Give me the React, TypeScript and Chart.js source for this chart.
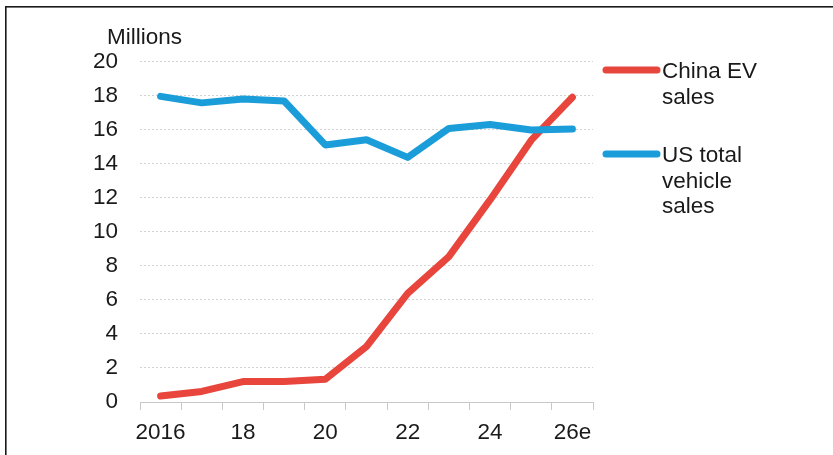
import React, { useEffect, useRef } from "react";
import { Chart, registerables } from "chart.js";

Chart.register(...registerables);

const years = ["2016", "2017", "2018", "2019", "2020", "2021", "2022", "2023", "2024", "2025", "2026e"];
const tickLabels = ["2016", "", "18", "", "20", "", "22", "", "24", "", "26e"];
const chinaEV = [0.35, 0.62, 1.2, 1.2, 1.33, 3.26, 6.38, 8.54, 11.87, 15.38, 17.9];
const usTotal = [17.95, 17.57, 17.8, 17.68, 15.1, 15.4, 14.37, 16.07, 16.3, 15.98, 16.03];
const unitLabel = "Millions";
const legendItems = [
  { lines: ["China EV", "sales"], color: "#E8453C" },
  { lines: ["US total", "vehicle", "sales"], color: "#1B9DD9" },
];

const FONT = "'Liberation Sans', Arial, sans-serif";
const FS = 22.5;
const RED = "#E8453C";
const BLUE = "#1B9DD9";

const decorPlugin = {
  id: "decor",
  afterDraw(chart: any) {
    const ctx = chart.ctx;
    ctx.save();
    // frame
    ctx.fillStyle = "#1a1a1a";
    ctx.fillRect(5, 6, 828, 1.6);
    ctx.fillRect(5, 6, 1.6, 449);
    // unit label
    ctx.fillStyle = "#1a1a1a";
    ctx.font = `${FS}px ${FONT}`;
    ctx.textAlign = "left";
    ctx.textBaseline = "alphabetic";
    ctx.fillText(unitLabel, 107, 44);
    // legend
    const starts = [70, 154];
    legendItems.forEach((item, i) => {
      const y = starts[i];
      ctx.strokeStyle = item.color;
      ctx.lineWidth = 7;
      ctx.lineCap = "round";
      ctx.beginPath();
      ctx.moveTo(606, y);
      ctx.lineTo(657, y);
      ctx.stroke();
      ctx.fillStyle = "#1a1a1a";
      item.lines.forEach((t, j) => {
        ctx.fillText(t, 662, y + 8 + j * 25.5);
      });
    });
    ctx.restore();
  },
};

export default function App() {
  const ref = useRef<HTMLCanvasElement | null>(null);
  useEffect(() => {
    document.body.style.margin = "0";
    const chart = new Chart(ref.current as HTMLCanvasElement, {
      type: "line",
      data: {
        labels: years,
        datasets: [
          {
            label: "US total vehicle sales",
            data: usTotal,
            borderColor: BLUE,
            backgroundColor: BLUE,
            borderWidth: 7,
            pointRadius: 0,
            tension: 0,
            borderCapStyle: "round",
            borderJoinStyle: "round",
          },
          {
            label: "China EV sales",
            data: chinaEV,
            borderColor: RED,
            backgroundColor: RED,
            borderWidth: 7,
            pointRadius: 0,
            tension: 0,
            borderCapStyle: "round",
            borderJoinStyle: "round",
          },
        ],
      },
      options: {
        animation: false,
        responsive: true,
        maintainAspectRatio: false,
        layout: { padding: { left: 0, top: 61.5, right: 240, bottom: 0 } },
        plugins: { legend: { display: false }, tooltip: { enabled: false } },
        scales: {
          x: {
            type: "category",
            offset: true,
            afterFit: (s: any) => {
              s.height = 53;
            },
            grid: {
              offset: true,
              drawOnChartArea: false,
              drawTicks: true,
              tickLength: 8,
              color: "#c8c8c8",
              tickColor: "#c8c8c8",
            },
            border: { display: true, color: "#c8c8c8", width: 1 },
            ticks: {
              autoSkip: false,
              maxRotation: 0,
              padding: 9,
              color: "#1a1a1a",
              font: { family: FONT, size: FS },
              callback: (_v: any, i: number) => tickLabels[i],
            },
          },
          y: {
            min: 0,
            max: 20,
            afterFit: (s: any) => {
              s.width = 140;
            },
            grid: { drawTicks: false, color: "#d2d2d2", lineWidth: 1 },
            border: { display: false, dash: [2, 2] },
            ticks: {
              stepSize: 2,
              padding: 22,
              color: "#1a1a1a",
              font: { family: FONT, size: FS },
            },
          },
        },
      },
      plugins: [decorPlugin],
    });
    return () => chart.destroy();
  }, []);
  return (
    <div style={{ position: "relative", width: 833, height: 455, background: "#fff" }}>
      <canvas ref={ref} style={{ display: "block" }} />
    </div>
  );
}
